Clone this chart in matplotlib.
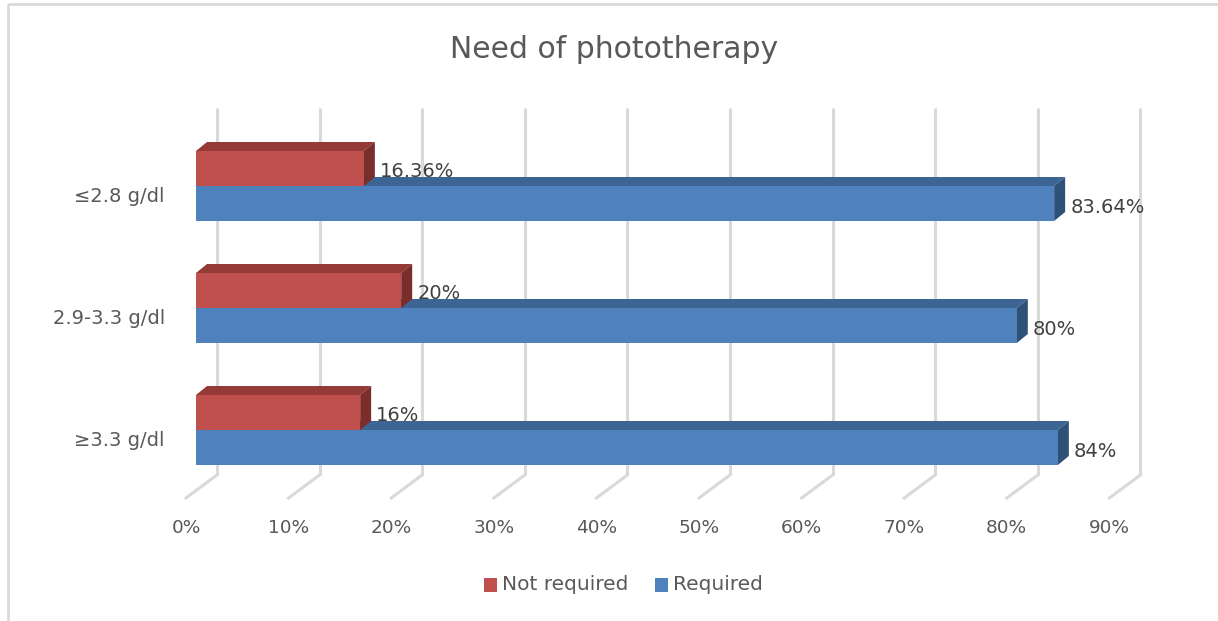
import matplotlib.pyplot as plt
from matplotlib.patches import Polygon, Rectangle

# data
categories = ['≤2.8 g/dl', '2.9-3.3 g/dl', '≥3.3 g/dl']
not_required = [16.36, 20, 16]
required = [83.64, 80, 84]
not_required_labels = ['16.36%', '20%', '16%']
required_labels = ['83.64%', '80%', '84%']
ticks = [0, 10, 20, 30, 40, 50, 60, 70, 80, 90]

# colours (front, top, side)
red = ('#C0504D', '#943A37', '#7A2E2C')
blue = ('#4F81BD', '#3C6593', '#2F5077')
grid_col = '#D9D9D9'
text_col = '#595959'

# 3d look: depth shift of the bars and of the floor, in data units
px_x = 10.26            # pixels per percent
px_y = 122.0            # pixels per category step
bar_h = 35 / px_y
bar_dx, bar_dy = 11 / px_x, -9 / px_y
floor_front_x, floor_back_x = -10 / px_x, 21 / px_x
floor_front_y, floor_back_y = 312 / px_y, 289 / px_y
grid_top = -78 / px_y

fig = plt.figure(figsize=(12.18, 6.21), dpi=100)
ax = fig.add_axes([0, 0, 1, 1])
ax.set_xlim(-196 / px_x, (1218 - 196) / px_x)
ax.set_ylim((621 - 186) / px_y, -186 / px_y)
ax.axis('off')

# chart border
ax.add_patch(Rectangle((-188 / px_x, -182 / px_y), 1300 / px_x, 700 / px_y,
                       fill=False, edgecolor=grid_col, lw=2, zorder=0))

# back wall gridlines and floor
for t in ticks:
    ax.plot([t + floor_back_x, t + floor_back_x], [grid_top, floor_back_y],
            color=grid_col, lw=2.2, zorder=1, solid_capstyle='butt')
    ax.plot([t + floor_back_x, t + floor_front_x], [floor_back_y, floor_front_y],
            color=grid_col, lw=2.2, zorder=1)
    ax.text(t + floor_front_x, floor_front_y + 30 / px_y, f'{t}%',
            ha='center', va='center', fontsize=13.3, color=text_col)


def bar3d(x0, x1, y_top, cols, z):
    y_bot = y_top + bar_h
    ax.add_patch(Polygon([(x0, y_top), (x0 + bar_dx, y_top + bar_dy),
                          (x1 + bar_dx, y_top + bar_dy), (x1, y_top)],
                         closed=True, facecolor=cols[1], edgecolor='none', zorder=z))
    ax.add_patch(Polygon([(x1, y_top), (x1 + bar_dx, y_top + bar_dy),
                          (x1 + bar_dx, y_bot + bar_dy), (x1, y_bot)],
                         closed=True, facecolor=cols[2], edgecolor='none', zorder=z))
    ax.barh(y_top + bar_h / 2, x1 - x0, height=bar_h, left=x0, color=cols[0],
            edgecolor='none', zorder=z)


for i, cat in enumerate(categories):
    bar3d(0, required[i], i, blue, 2 + i * 2)
    bar3d(0, not_required[i], i - bar_h, red, 3 + i * 2)
    ax.text(not_required[i] + 16 / px_x, i - bar_h / 2 + 3 / px_y,
            not_required_labels[i], ha='left', va='center', fontsize=14,
            color='#404040', zorder=10)
    ax.text(required[i] + 16 / px_x, i + bar_h / 2 + 4 / px_y,
            required_labels[i], ha='left', va='center', fontsize=14,
            color='#404040', zorder=10)
    ax.text(-31 / px_x, i + 10 / px_y, cat, ha='right', va='center',
            fontsize=14, color=text_col)

ax.text((614 - 196) / px_x, -136 / px_y, 'Need of phototherapy', ha='center',
        va='center', fontsize=21.5, color=text_col)

# legend
leg_y = (578 - 186) / px_y
ax.add_patch(Rectangle(((484 - 196) / px_x, leg_y), 13 / px_x, 14 / px_y,
                       facecolor=red[0], edgecolor='none'))
ax.text((502 - 196) / px_x, (585 - 186) / px_y, 'Not required', ha='left', va='center',
        fontsize=14.5, color=text_col)
ax.add_patch(Rectangle(((655 - 196) / px_x, leg_y), 13 / px_x, 14 / px_y,
                       facecolor=blue[0], edgecolor='none'))
ax.text((673 - 196) / px_x, (585 - 186) / px_y, 'Required', ha='left', va='center',
        fontsize=14.5, color=text_col)

fig.savefig('out.png', dpi=100)
